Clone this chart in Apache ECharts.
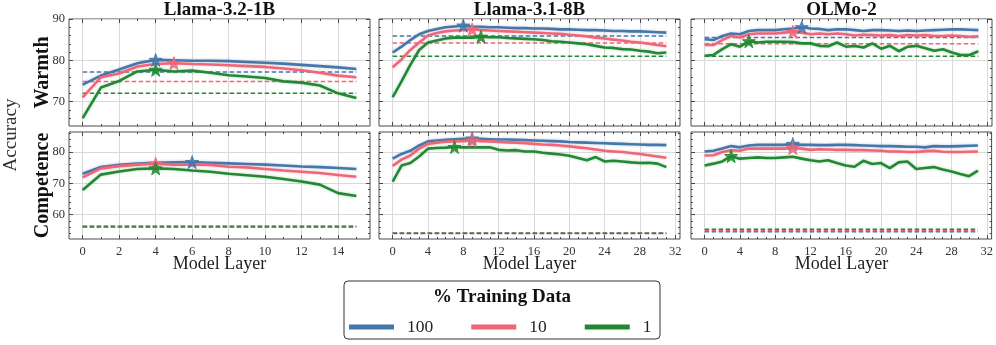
<!DOCTYPE html>
<html>
<head>
<meta charset="utf-8">
<script src="https://cdn.jsdelivr.net/npm/echarts@6/dist/echarts.min.js"></script>
<style>
html, body { margin: 0; padding: 0; background: #fff; }
#chart { width: 996px; height: 345px; }
</style>
</head>
<body>
<div id="chart"></div>
<script>
// ---- tick labels ----
const xTicks1B = [0, 2, 4, 6, 8, 10, 12, 14];
const xMinor1B = [1, 3, 5, 7, 9, 11, 13, 15];
const xTicks8B = [0, 4, 8, 12, 16, 20, 24, 28, 32];
const xMinor8B = [1, 2, 3, 5, 6, 7, 9, 10, 11, 13, 14, 15, 17, 18, 19, 21, 22, 23, 25, 26, 27, 29, 30, 31];
const yTicksWarm = [70, 80, 90];
const yMinorWarm = [66, 68, 72, 74, 76, 78, 82, 84, 86, 88];
const yTicksComp = [60, 70, 80];
const yMinorComp = [54, 56, 58, 62, 64, 66, 68, 72, 74, 76, 78, 82, 84, 86];

const models = ['Llama-3.2-1B', 'Llama-3.1-8B', 'OLMo-2'];
const sizes = ['100', '10', '1'];

// ---- Llama-3.2-1B ----
const warm1B_100 = [74.1, 76.3, 77.8, 79.3, 80.1, 80.0, 79.9, 79.9, 79.8, 79.6, 79.4, 79.2, 78.9, 78.6, 78.3, 77.9];
const warm1B_10  = [71.0, 75.9, 76.8, 78.5, 79.1, 79.3, 79.1, 79.0, 78.8, 78.6, 78.4, 78.0, 77.6, 77.0, 76.3, 75.9];
const warm1B_1   = [66.0, 73.4, 75.0, 77.3, 77.7, 77.3, 77.5, 77.0, 76.4, 76.1, 75.7, 74.9, 74.6, 73.9, 72.0, 70.9];
const warmBase1B = [77.2, 74.9, 72.0];
const comp1B_100 = [73.1, 75.2, 75.9, 76.3, 76.6, 76.7, 76.8, 76.6, 76.4, 76.2, 76.0, 75.7, 75.4, 75.2, 74.9, 74.6];
const comp1B_10  = [71.9, 74.8, 75.5, 76.0, 76.3, 76.0, 76.0, 75.9, 75.3, 75.1, 74.6, 74.1, 73.7, 73.3, 72.7, 72.1];
const comp1B_1   = [67.9, 72.8, 73.8, 74.6, 74.8, 74.6, 74.1, 73.7, 73.1, 72.6, 72.1, 71.4, 70.6, 69.6, 66.9, 66.0];
const compBase1B = [56.2, 56.4, 56.1];

// ---- Llama-3.1-8B ----
const warm8B_100 = [81.9, 83.3, 84.9, 86.3, 87.1, 87.6, 88.0, 88.2, 88.4, 88.2, 88.1, 88.0, 88.0, 87.9, 87.8, 87.8,
                    87.7, 87.7, 87.6, 87.5, 87.5, 87.4, 87.3, 87.3, 87.2, 87.1, 87.1, 87.0, 87.0, 86.9, 86.8, 86.7];
const warm8B_10  = [78.3, 80.2, 82.5, 84.3, 86.0, 86.6, 87.0, 87.2, 87.3, 87.5, 87.3, 87.2, 87.1, 87.0, 86.9, 86.8,
                    86.7, 86.6, 86.5, 86.4, 86.2, 86.0, 85.8, 85.5, 85.3, 85.0, 84.8, 84.5, 84.3, 84.0, 83.7, 83.4];
const warm8B_1   = [71.1, 74.9, 78.9, 82.5, 84.3, 84.8, 85.3, 85.5, 85.5, 85.5, 85.7, 85.6, 85.6, 85.4, 85.3, 85.2,
                    85.1, 84.9, 84.6, 84.5, 84.3, 84.1, 83.9, 83.5, 83.1, 83.0, 82.7, 82.6, 82.3, 82.1, 81.7, 81.9];
const warmBase8B = [85.9, 84.2, 81.0];
const comp8B_100 = [77.9, 79.4, 80.4, 82.1, 83.4, 83.7, 83.9, 84.1, 84.2, 84.3, 84.2, 84.1, 84.0, 84.0, 83.9, 83.8,
                    83.7, 83.6, 83.5, 83.4, 83.2, 83.1, 83.0, 82.9, 82.8, 82.7, 82.6, 82.5, 82.4, 82.3, 82.3, 82.2];
const comp8B_10  = [75.6, 77.6, 78.9, 81.1, 82.6, 83.0, 83.3, 83.4, 83.5, 83.7, 83.5, 83.4, 83.2, 83.1, 83.0, 82.8,
                    82.6, 82.4, 82.3, 82.1, 81.8, 81.5, 81.2, 80.8, 80.4, 80.2, 80.0, 79.7, 79.4, 79.0, 78.6, 78.2];
const comp8B_1   = [70.6, 75.7, 76.5, 78.6, 81.1, 81.3, 81.4, 81.6, 81.5, 81.5, 81.5, 81.5, 80.7, 80.5, 80.6, 80.2,
                    80.2, 79.8, 79.5, 79.2, 78.8, 78.1, 77.4, 78.4, 77.0, 77.2, 77.0, 76.7, 76.5, 76.6, 76.3, 75.2];
const compBase8B = [54.0, 54.2, 54.1];

// ---- OLMo-2 ----
const warmOL_100 = [85.1, 84.9, 85.9, 86.5, 86.3, 87.1, 87.3, 87.3, 87.3, 87.5, 87.7, 88.0, 87.7, 87.6, 87.3, 87.5,
                    87.5, 87.3, 87.1, 87.3, 87.3, 87.2, 87.1, 87.2, 87.1, 87.2, 87.3, 87.4, 87.5, 87.5, 87.4, 87.3];
const warmOL_10  = [83.7, 83.7, 84.9, 85.9, 85.5, 86.3, 86.5, 86.5, 86.5, 86.7, 86.9, 86.7, 86.3, 86.5, 86.3, 86.5,
                    86.3, 86.0, 86.2, 86.1, 86.0, 86.1, 85.9, 86.1, 86.0, 86.1, 85.9, 85.9, 86.0, 85.9, 85.7, 85.8];
const warmOL_1   = [81.1, 81.3, 82.7, 83.9, 83.3, 84.6, 84.3, 84.5, 84.5, 84.5, 84.4, 84.1, 84.1, 83.5, 83.4, 84.3,
                    83.3, 83.5, 83.1, 84.1, 82.8, 83.5, 82.2, 83.3, 83.5, 82.9, 82.3, 82.7, 81.9, 81.3, 81.3, 82.2];
const warmBaseOL = [85.5, 84.0, 81.0];
const compOL_100 = [80.2, 80.4, 81.1, 81.9, 81.5, 82.1, 82.3, 82.3, 82.3, 82.3, 82.6, 82.3, 82.3, 82.2, 82.2, 82.3,
                    82.3, 82.2, 82.1, 82.0, 81.9, 81.9, 81.8, 81.7, 81.7, 81.5, 81.9, 81.8, 81.8, 81.9, 82.0, 82.1];
const compOL_10  = [78.9, 79.0, 80.0, 80.6, 80.4, 81.1, 81.1, 81.1, 81.1, 81.1, 81.3, 81.1, 80.7, 80.9, 80.8, 80.7,
                    80.7, 80.6, 80.6, 80.5, 80.4, 80.2, 80.2, 80.0, 80.0, 80.3, 80.4, 80.1, 80.0, 80.0, 80.1, 80.2];
const compOL_1   = [75.7, 76.3, 77.0, 78.7, 77.9, 78.1, 78.3, 78.1, 78.1, 78.3, 78.5, 77.9, 77.4, 77.0, 77.4, 76.5,
                    75.7, 75.3, 77.2, 76.2, 76.5, 74.9, 76.7, 77.0, 74.6, 74.9, 75.2, 74.4, 73.8, 73.0, 72.3, 74.1];
const compBaseOL = [54.6, 55.0, 55.4];

// ---- layout / style ----
const FONT = 'Liberation Serif';
const COLORS = ['#4477AA', '#EE6677', '#228833'];
const HALO = ['rgba(68,119,170,0.35)', 'rgba(238,102,119,0.35)', 'rgba(34,136,51,0.35)'];
const colLeft = [69, 379, 691];
const rowTop = [19, 132];
const plotW = 301, plotH = 107;
const AXIS_C = '#4a4a4a';
const STAR = 'path://M0,-10L2.35,-3.24L9.51,-3.09L3.8,1.24L5.88,8.09L0,4L-5.88,8.09L-3.8,1.24L-9.51,-3.09L-2.35,-3.24Z';

const panels = [
  { col: 0, row: 0, curves: [warm1B_100, warm1B_10, warm1B_1], base: warmBase1B, xt: xTicks1B, xm: xMinor1B, yt: yTicksWarm, ym: yMinorWarm, yMin: 64.1, yMax: 90 },
  { col: 1, row: 0, curves: [warm8B_100, warm8B_10, warm8B_1], base: warmBase8B, xt: xTicks8B, xm: xMinor8B, yt: yTicksWarm, ym: yMinorWarm, yMin: 64.1, yMax: 90 },
  { col: 2, row: 0, curves: [warmOL_100, warmOL_10, warmOL_1], base: warmBaseOL, xt: xTicks8B, xm: xMinor8B, yt: yTicksWarm, ym: yMinorWarm, yMin: 64.1, yMax: 90 },
  { col: 0, row: 1, curves: [comp1B_100, comp1B_10, comp1B_1], base: compBase1B, xt: xTicks1B, xm: xMinor1B, yt: yTicksComp, ym: yMinorComp, yMin: 52.25, yMax: 86.4 },
  { col: 1, row: 1, curves: [comp8B_100, comp8B_10, comp8B_1], base: compBase8B, xt: xTicks8B, xm: xMinor8B, yt: yTicksComp, ym: yMinorComp, yMin: 52.25, yMax: 86.4 },
  { col: 2, row: 1, curves: [compOL_100, compOL_10, compOL_1], base: compBaseOL, xt: xTicks8B, xm: xMinor8B, yt: yTicksComp, ym: yMinorComp, yMin: 52.25, yMax: 86.4 }
];

const grids = [], xAxes = [], yAxes = [], series = [];

function tickAxis(kind, g, pos, lo, hi, values, len, labels, split) {
  return {
    type: 'value', gridIndex: g, position: pos, min: lo, max: hi,
    axisLine: { show: false, onZero: false },
    axisTick: { show: true, inside: true, length: len, customValues: values, lineStyle: { color: AXIS_C, width: 1 } },
    axisLabel: labels
      ? { show: true, customValues: values, fontFamily: FONT, fontSize: 12.5, color: '#333', margin: kind === 'x' ? 6 : 4 }
      : { show: false },
    splitLine: { show: !!split, lineStyle: { color: '#d9d9d9', width: 1 } },
    minorTick: { show: false }
  };
}

panels.forEach((p, g) => {
  const n = p.curves[0].length;
  const xLo = -(n - 1) * 0.05, xHi = (n - 1) * 1.05;
  grids.push({ left: colLeft[p.col], top: rowTop[p.row], width: plotW, height: plotH,
               show: true, borderColor: AXIS_C, borderWidth: 1, backgroundColor: 'transparent' });
  const xi = xAxes.length, yi = yAxes.length;
  xAxes.push(tickAxis('x', g, 'bottom', xLo, xHi, p.xt, 4, p.row === 1, true));
  xAxes.push(tickAxis('x', g, 'bottom', xLo, xHi, p.xm, 2, false, false));
  xAxes.push(tickAxis('x', g, 'top', xLo, xHi, p.xt, 4, false, false));
  xAxes.push(tickAxis('x', g, 'top', xLo, xHi, p.xm, 2, false, false));
  yAxes.push(tickAxis('y', g, 'left', p.yMin, p.yMax, p.yt, 4, p.col === 0, true));
  yAxes.push(tickAxis('y', g, 'left', p.yMin, p.yMax, p.ym, 2, false, false));
  yAxes.push(tickAxis('y', g, 'right', p.yMin, p.yMax, p.yt, 4, false, false));
  yAxes.push(tickAxis('y', g, 'right', p.yMin, p.yMax, p.ym, 2, false, false));

  // dashed baselines
  p.base.forEach((b, k) => {
    series.push({
      name: sizes[k] + ' baseline', type: 'line', xAxisIndex: xi, yAxisIndex: yi,
      data: [[0, b], [n - 1, b]], showSymbol: false, silent: true, z: 1,
      lineStyle: { color: COLORS[k], width: 1.5, type: [4.5, 2.5] }
    });
  });
  // layer curves with a star at the best layer
  p.curves.forEach((c, k) => {
    series.push({
      name: sizes[k], type: 'line', xAxisIndex: xi, yAxisIndex: yi,
      data: c.map((v, i) => [i, v]), showSymbol: false, silent: true, z: 2 + k,
      color: COLORS[k],
      itemStyle: { color: COLORS[k] },
      lineStyle: { color: COLORS[k], width: 2.6, shadowColor: HALO[k], shadowBlur: 3 },
      markPoint: {
        symbol: STAR, symbolSize: [13, 13], silent: true,
        label: { show: false },
        itemStyle: { color: COLORS[k], opacity: 0.85, borderColor: COLORS[k], borderWidth: 1 },
        data: [{ type: 'max', valueDim: 'y' }]
      }
    });
  });
});

// free text
const texts = [];
models.forEach((m, c) => {
  texts.push({ type: 'text', x: colLeft[c] + plotW / 2, y: 10,
    style: { text: m, font: 'bold 19px "' + FONT + '"', fill: '#111', textAlign: 'center', textVerticalAlign: 'middle' } });
  texts.push({ type: 'text', x: colLeft[c] + plotW / 2, y: 264,
    style: { text: 'Model Layer', font: '18px "' + FONT + '"', fill: '#222', textAlign: 'center', textVerticalAlign: 'middle' } });
});
texts.push({ type: 'text', x: 43, y: rowTop[0] + plotH / 2, rotation: Math.PI / 2,
  style: { text: 'Warmth', font: 'bold 20px "' + FONT + '"', fill: '#111', textAlign: 'center', textVerticalAlign: 'middle' } });
texts.push({ type: 'text', x: 43, y: rowTop[1] + plotH / 2, rotation: Math.PI / 2,
  style: { text: 'Competence', font: 'bold 20px "' + FONT + '"', fill: '#111', textAlign: 'center', textVerticalAlign: 'middle' } });
texts.push({ type: 'text', x: 11, y: 135, rotation: Math.PI / 2,
  style: { text: 'Accuracy', font: '19px "' + FONT + '"', fill: '#333', textAlign: 'center', textVerticalAlign: 'middle' } });
// legend frame + title
texts.push({ type: 'rect', shape: { x: 344, y: 281, width: 316, height: 58, r: 4 },
  style: { fill: '#fff', stroke: '#333', lineWidth: 1 }, z: -1 });
texts.push({ type: 'text', x: 502, y: 297,
  style: { text: '% Training Data', font: 'bold 19px "' + FONT + '"', fill: '#111', textAlign: 'center', textVerticalAlign: 'middle' } });

const chart = echarts.init(document.getElementById('chart'), null, { renderer: 'canvas' });
chart.setOption({
  animation: false,
  backgroundColor: '#fff',
  grid: grids,
  xAxis: xAxes,
  yAxis: yAxes,
  legend: {
    data: sizes, left: 344, top: 313, orient: 'horizontal',
    icon: 'rect', itemWidth: 45, itemHeight: 5, itemGap: 38,
    textStyle: { fontFamily: FONT, fontSize: 17.5, color: '#222', padding: [0, 0, 0, 8] },
    selectedMode: false
  },
  graphic: texts,
  series: series
});
</script>
</body>
</html>
